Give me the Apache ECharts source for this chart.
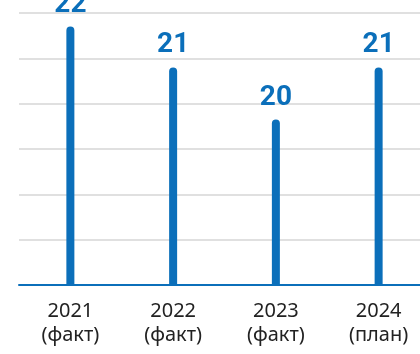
<!DOCTYPE html>
<html>
<head>
<meta charset="utf-8">
<script src="https://cdn.jsdelivr.net/npm/echarts@6/dist/echarts.min.js"></script>
<style>
  html, body { margin: 0; padding: 0; background: #fff; overflow: hidden; }
  /* plot area runs a bit past the right edge of the window, as in the reference */
  #chart { width: 430px; height: 354px; }
</style>
</head>
<body>
<div id="chart"></div>
<script>
// категории и значения (подписи над столбиками округлены)
const years = ["2021\n(факт)", "2022\n(факт)", "2023\n(факт)", "2024\n(план)"];
const values = [21.7, 20.8, 19.65, 20.8];
const yTicks = [16, 17, 18, 19, 20, 21, 22];

const blue = "#0b6fba";

const chart = echarts.init(document.getElementById("chart"));
chart.setOption({
  animation: false,
  grid: { left: 19, right: 0, top: 13, bottom: 69 },
  xAxis: {
    type: "category",
    data: years,
    axisLine: { lineStyle: { color: blue, width: 2 } },
    axisTick: { show: false },
    axisLabel: {
      color: "#222",
      fontSize: 20,
      lineHeight: 24,
      margin: 14,
      fontFamily: "Noto Sans"
    }
  },
  yAxis: {
    type: "value",
    min: yTicks[0],
    max: yTicks[yTicks.length - 1],
    interval: 1,
    axisLabel: { show: false },
    axisLine: { show: false },
    axisTick: { show: false },
    splitLine: { lineStyle: { color: "#e0e0e0", width: 2 } }
  },
  series: [
    {
      type: "bar",
      data: values,
      barWidth: 8,
      itemStyle: { color: blue, borderRadius: [4, 4, 0, 0] },
      label: {
        show: true,
        position: "top",
        distance: 8,
        color: blue,
        fontSize: 28,
        fontWeight: "bold",
        fontFamily: "Roboto",
        formatter: function(p) {
          return Math.round(p.value);
        }
      }
    }
  ]
});
</script>
</body>
</html>
